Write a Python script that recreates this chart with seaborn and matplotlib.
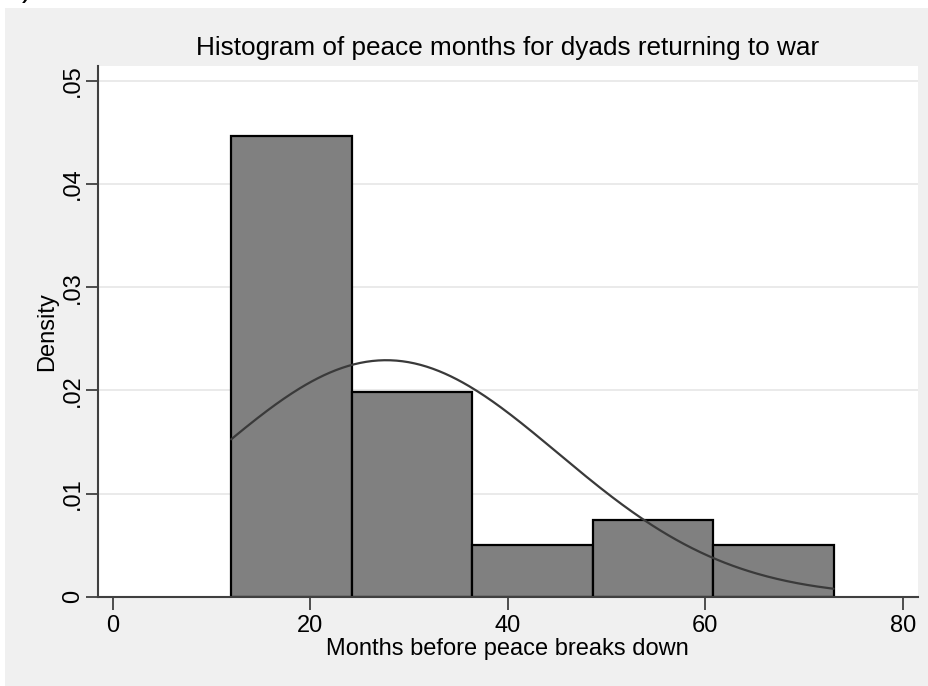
import numpy as np
import pandas as pd
import matplotlib
matplotlib.use("Agg")
import matplotlib.pyplot as plt
import seaborn as sns

# Histogram bins (months) and number of dyads in each bin
bin_edges = [12.0, 24.2, 36.4, 48.6, 60.8, 73.0]
bin_counts = [18, 8, 2, 3, 2]

# Normal density overlay parameters
normal_mean = 27.7
normal_sd = 17.4

y_ticks = [0, 0.01, 0.02, 0.03, 0.04, 0.05]
y_tick_labels = ["0", ".01", ".02", ".03", ".04", ".05"]
x_ticks = [0, 20, 40, 60, 80]

sns.set_theme(style="white")
plt.rcParams["font.family"] = ["Liberation Sans", "DejaVu Sans"]

fig = plt.figure(figsize=(9.29, 6.86), dpi=100, facecolor="white")

# Light grey graph region behind the plot
fig.patches.append(plt.Rectangle((5 / 929, 0), 1, 1 - 8 / 686,
                                 transform=fig.transFigure,
                                 facecolor="#f0f0f0", edgecolor="none", zorder=-10))
fig.text(5 / 929, 1 + 4 / 686, "b)", fontsize=22, ha="left", va="baseline",
         color="black")

ax = fig.add_axes([97.7 / 929, 1 - 596.7 / 686, 820 / 929, 531 / 686])
ax.set_facecolor("white")

mids = [(a + b) / 2 for a, b in zip(bin_edges[:-1], bin_edges[1:])]
df = pd.DataFrame({"months": mids, "count": bin_counts})
sns.histplot(data=df, x="months", weights="count", bins=bin_edges, stat="density",
             color="#808080", edgecolor="black", linewidth=1.6, alpha=1, ax=ax,
             zorder=3)

xs = np.linspace(bin_edges[0], bin_edges[-1], 300)
dens = np.exp(-0.5 * ((xs - normal_mean) / normal_sd) ** 2) / (normal_sd * np.sqrt(2 * np.pi))
sns.lineplot(x=xs, y=dens, color="#3a3a3a", linewidth=1.6, ax=ax, zorder=4)

ax.set_xlim(-1.52, 81.52)
ax.set_ylim(0, 0.05148)
ax.set_yticks(y_ticks)
ax.set_yticklabels(y_tick_labels, rotation=90, va="center")
ax.set_xticks(x_ticks)
ax.set_xticklabels([str(t) for t in x_ticks])

for y in y_ticks[1:]:
    ax.axhline(y, color="#e8e8e8", linewidth=1.3, zorder=1)

for side in ["top", "right"]:
    ax.spines[side].set_visible(False)
for side in ["left", "bottom"]:
    ax.spines[side].set_color("#404040")
    ax.spines[side].set_linewidth(1.5)
    ax.spines[side].set_zorder(5)

ax.tick_params(axis="both", which="major", direction="out", length=9, width=1.3,
               color="#404040", labelsize=17, labelcolor="black",
               left=True, bottom=True)
ax.tick_params(axis="x", pad=4)
ax.tick_params(axis="y", pad=1)

ax.set_xlabel("Months before peace breaks down", fontsize=17, color="black", labelpad=1)
ax.set_ylabel("Density", fontsize=17, color="black", labelpad=3)
ax.set_title("Histogram of peace months for dyads returning to war",
             fontsize=18.8, color="black", pad=8)

fig.savefig("out.png", dpi=100, facecolor=fig.get_facecolor())
